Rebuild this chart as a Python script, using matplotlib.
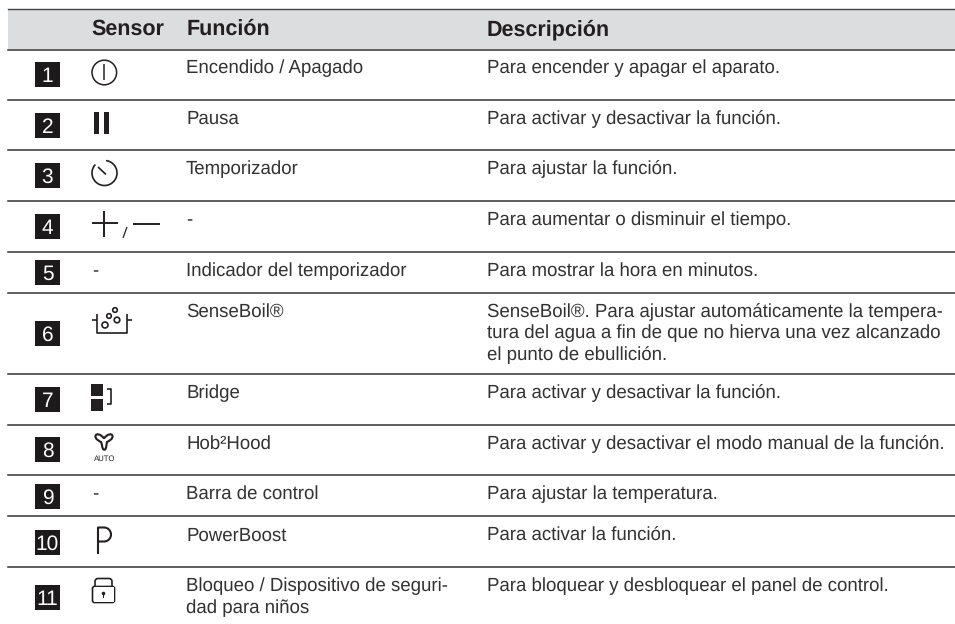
import numpy as np
import matplotlib
matplotlib.use("Agg")
import matplotlib.pyplot as plt
from matplotlib.patches import Arc, Circle, Rectangle, FancyBboxPatch, Polygon, PathPatch
from matplotlib.path import Path

# --- table content ---
HEADERS = ['Sensor', 'Función', 'Descripción']
NUMBERS = ['1', '2', '3', '4', '5', '6', '7', '8', '9', '10', '11']
FUNCIONES = [
    'Encendido / Apagado',
    'Pausa',
    'Temporizador',
    '-',
    'Indicador del temporizador',
    'SenseBoil®',
    'Bridge',
    'Hob²Hood',
    'Barra de control',
    'PowerBoost',
    'Bloqueo / Dispositivo de seguri-\ndad para niños',
]
DESCRIPCIONES = [
    'Para encender y apagar el aparato.',
    'Para activar y desactivar la función.',
    'Para ajustar la función.',
    'Para aumentar o disminuir el tiempo.',
    'Para mostrar la hora en minutos.',
    'SenseBoil®. Para ajustar automáticamente la tempera-\n'
    'tura del agua a fin de que no hierva una vez alcanzado\n'
    'el punto de ebullición.',
    'Para activar y desactivar la función.',
    'Para activar y desactivar el modo manual de la función.',
    'Para ajustar la temperatura.',
    'Para activar la función.',
    'Para bloquear y desbloquear el panel de control.',
]

# pixel layout
LINES_Y = [49.5, 99.5, 150, 201, 252, 293, 374, 424.5, 475, 516, 567]
BASELINES = [73, 124, 174, 225, 276, 317, 398, 449, 499, 541, 591.5]
BOX_TOPS = [62, 113, 163, 214, 260, 321, 387, 437, 484, 530, 585]
INK = '#231f20'
TXT = '#333132'
FS = 13.4
LEADING = 21.5

plt.rcParams['font.family'] = ['Liberation Sans', 'DejaVu Sans']
plt.rcParams['text.hinting'] = 'none'

fig = plt.figure(figsize=(9.55, 6.24), dpi=100)
ax = fig.add_axes([0, 0, 1, 1])
ax.set_xlim(0, 955)
ax.set_ylim(624, 0)
ax.axis('off')


def line(xs, ys, lw=1.1):
    ax.plot(xs, ys, color=INK, lw=lw, solid_capstyle='butt', solid_joinstyle='round')


# header band + rules
ax.add_patch(Rectangle((8, 9), 947, 40, fc='#dcdddf', ec='none'))
ax.plot([8, 955], [8.5, 8.5], color='#444444', lw=1.0)
for y in LINES_Y:
    ax.plot([8, 955], [y, y], color='#333333', lw=1.1)

for x, h in zip([91.5, 186.5, 487], HEADERS):
    ax.text(x, 35, h, fontsize=15.5, fontweight='bold', color=INK, va='baseline')

# numbered boxes and text columns
for i, n in enumerate(NUMBERS):
    ax.add_patch(Rectangle((35, BOX_TOPS[i]), 25, 25, fc='#1d1a1b', ec='none'))
    ax.text(47.5, BOX_TOPS[i] + 20, n, fontsize=15, color='white', ha='center', va='baseline')
    for k, part in enumerate(FUNCIONES[i].split('\n')):
        ax.text(186, BASELINES[i] + LEADING * k, part, fontsize=FS, color=TXT, va='baseline')
    for k, part in enumerate(DESCRIPCIONES[i].split('\n')):
        ax.text(487, BASELINES[i] + LEADING * k, part, fontsize=FS, color=TXT, va='baseline')

# dashes in the sensor column
for i in [4, 8]:
    ax.text(92, BASELINES[i], '-', fontsize=FS, color=TXT, va='baseline')

# 1 power
ax.add_patch(Circle((104.3, 72.5), 12.3, fc='none', ec=INK, lw=1.1))
line([104.3, 104.3], [63.5, 80], lw=1.1)

# 2 pause
ax.add_patch(Rectangle((94, 112), 4.7, 22, fc=INK, ec='none'))
ax.add_patch(Rectangle((104, 112), 4.7, 22, fc=INK, ec='none'))

# 3 timer
ax.add_patch(Arc((104.5, 173), 25, 25, theta1=-83, theta2=223, color=INK, lw=1.2))
line([98, 106], [167, 174.5], lw=1.2)

# 4 plus / minus
line([92, 118], [223, 223], lw=1.4)
line([104.3, 104.3], [211, 237], lw=1.4)
line([123, 127], [238, 227], lw=0.9)
line([133, 160], [224, 224], lw=1.4)

# 6 boil pot
line([92, 97], [320, 320], lw=1.2)
line([97, 97, 127, 127], [314, 333, 333, 314], lw=1.2)
line([127, 132], [320, 320], lw=1.2)
for cx, cy, r in [(105, 325, 3), (109, 316, 2.3), (117, 320, 2.8), (115, 310, 2.3)]:
    ax.add_patch(Circle((cx, cy), r, fc='none', ec=INK, lw=1.2))

# 7 bridge
ax.add_patch(Rectangle((91, 384), 12, 12, fc=INK, ec='none'))
ax.add_patch(Rectangle((91, 399), 12, 12, fc=INK, ec='none'))
line([107, 110.5, 110.5, 107], [389, 389, 404, 404], lw=1.2)

# 8 fan + AUTO
fan_pts = [(104, 438.5),
           (101, 434), (96, 433), (95.5, 436),
           (95, 439), (99, 441), (101, 442),
           (102, 444), (102, 447), (103, 449),
           (104, 450), (105, 450), (105.5, 449),
           (106.5, 447), (106.5, 444), (107, 442),
           (109, 441), (113, 439), (112.5, 436),
           (112, 433), (107, 434), (104, 438.5)]
fan_codes = [Path.MOVETO] + [Path.CURVE4] * 21
ax.add_patch(PathPatch(Path(fan_pts, fan_codes), fc='none', ec=INK, lw=1.5))
ax.text(105, 461, 'AUTO', fontsize=5.6, color=INK, ha='center', va='baseline')

# 10 P
t = np.radians(np.linspace(-90, 90, 30))
ax.plot(np.r_[98, 98, 104 + 7 * np.cos(t), 98],
        np.r_[553, 527.5, 534.5 + 7 * np.sin(t), 541.5],
        color=INK, lw=1.5, solid_joinstyle='round')

# 11 lock
ax.add_patch(FancyBboxPatch((92.5, 586.5), 22, 16, boxstyle='round,pad=0,rounding_size=2',
                            fc='none', ec=INK, lw=1.2))
ax.add_patch(FancyBboxPatch((95, 578.5), 17, 14, boxstyle='round,pad=0,rounding_size=3',
                            fc='none', ec=INK, lw=1.2, zorder=1))
ax.add_patch(Rectangle((93.5, 587.3), 20, 14.5, fc='white', ec='none', zorder=1.5))
ax.add_patch(Circle((103.5, 593.5), 1.8, fc=INK, ec='none', zorder=2))
ax.add_patch(Polygon([[102.7, 594], [104.3, 594], [104.3, 598], [102.7, 598]], fc=INK, ec='none', zorder=2))

fig.savefig('out.png', dpi=100)
